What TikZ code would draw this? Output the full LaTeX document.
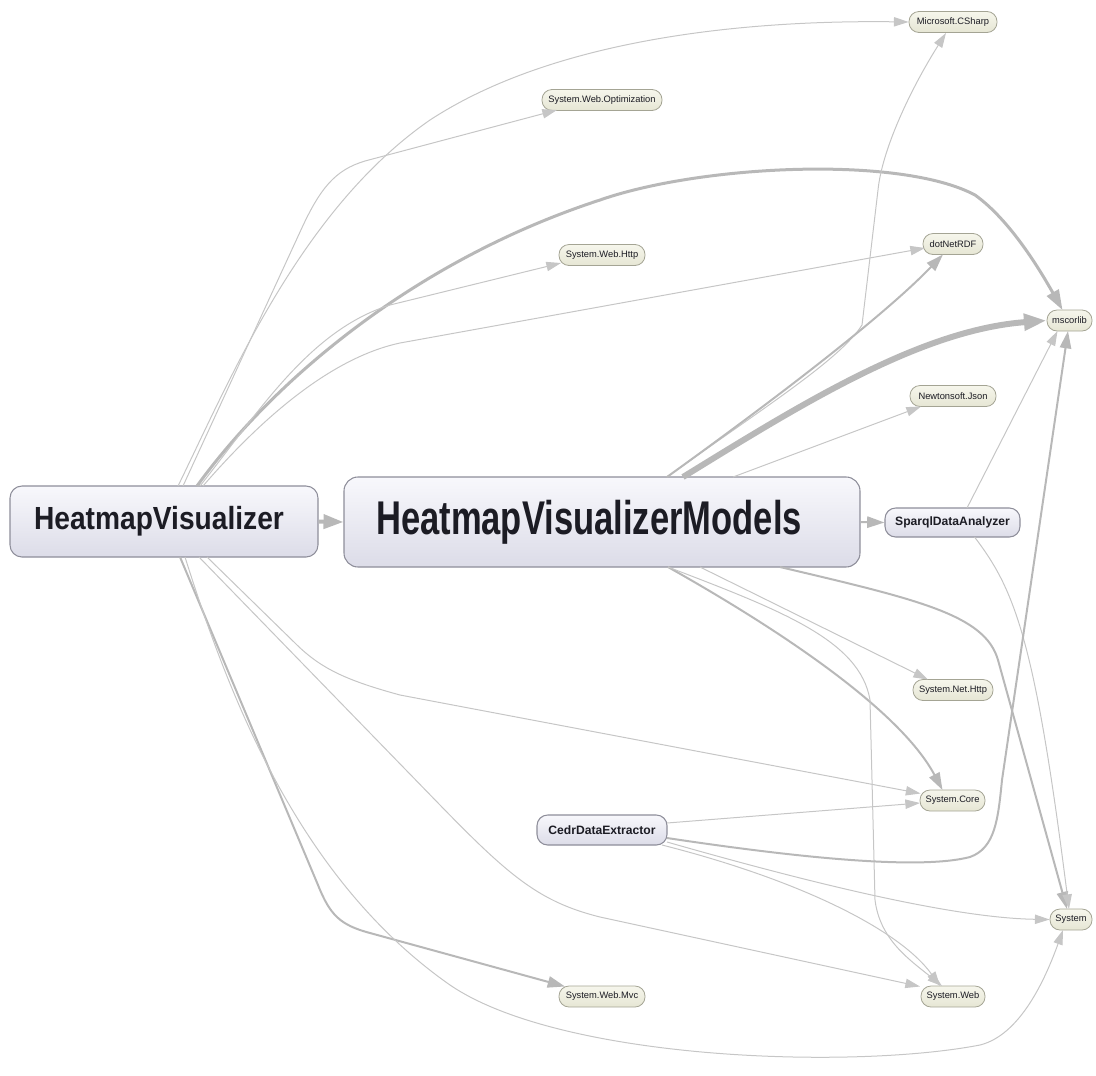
\documentclass[tikz,border=0pt]{standalone}
\usepackage{fontspec}
\setmainfont{Liberation Sans}
\usetikzlibrary{arrows.meta,calc}

\definecolor{edgethin}{HTML}{C6C6C6}
\definecolor{edgemid}{HTML}{B8B8B8}
\definecolor{bigtop}{HTML}{F8F8FC}
\definecolor{bigbot}{HTML}{DCDCE8}
\definecolor{bigline}{HTML}{8E8E9A}
\definecolor{modtop}{HTML}{F6F6EC}
\definecolor{modbot}{HTML}{E6E6D4}
\definecolor{modline}{HTML}{A4A494}
\definecolor{ink}{HTML}{1C1C24}

\tikzset{
  projbox/.style={draw=bigline, line width=0.8pt, top color=bigtop, bottom color=bigbot,
    inner sep=0pt, text=ink},
  refbox/.style={draw=modline, line width=0.6pt, top color=modtop, bottom color=modbot,
    rounded corners=7.5pt, inner sep=0pt, minimum height=15.75pt, text=ink,
    font=\fontsize{7}{8}\selectfont},
  depthin/.style={draw=edgethin, line width=0.75pt, -{Triangle[length=11pt,width=7pt]}},
  depmid/.style={draw=edgemid, line width=1.5pt, -{Triangle[length=13pt,width=8.5pt]}},
  depheavy/.style={draw=edgemid, line width=2.25pt, -{Triangle[length=15pt,width=10pt]}},
  depmax/.style={draw=edgemid, line width=4.5pt, -{Triangle[length=17pt,width=12pt]}},
}

\begin{document}
\begin{tikzpicture}[x=0.75pt,y=-0.75pt]
\useasboundingbox (0,0) rectangle (1096,1075);

% ---- projects ----
\node[projbox, rounded corners=9pt, minimum width=231pt, minimum height=53.25pt] (HV) at (164,521.5)
  {\scalebox{0.88}[1]{\fontsize{24}{24}\selectfont\bfseries HeatmapVisualizer}\hspace*{7.5pt}};
\node[projbox, rounded corners=10.5pt, minimum width=387pt, minimum height=67.5pt] (HVM) at (602,522)
  {\scalebox{0.73}[1]{\fontsize{35.5}{36}\selectfont\bfseries HeatmapVisualizerModels}\hspace*{19.5pt}};
\node[projbox, rounded corners=8pt, minimum width=101.25pt, minimum height=21.75pt] (SDA) at (952.5,522.5)
  {\fontsize{9.1}{10}\selectfont\bfseries SparqlDataAnalyzer};
\node[projbox, rounded corners=8pt, minimum width=97.5pt, minimum height=22.5pt] (CDE) at (602,830)
  {\fontsize{9.1}{10}\selectfont\bfseries CedrDataExtractor};

% ---- referenced assemblies ----
\node[refbox, minimum width=66pt]    (CSharp) at (953,22)     {Microsoft.CSharp};
\node[refbox, minimum width=90pt]    (Opt)    at (602,100)    {System.Web.Optimization};
\node[refbox, minimum width=64.5pt]  (WH)     at (602,255)    {System.Web.Http};
\node[refbox, minimum width=45pt]    (RDF)    at (953,244)    {dotNetRDF};
\node[refbox, minimum width=33.75pt] (ms)     at (1069.5,320.5) {mscorlib};
\node[refbox, minimum width=64.5pt]  (NJ)     at (953,396)    {Newtonsoft.Json};
\node[refbox, minimum width=60pt]    (NH)     at (953,690)    {System.Net.Http};
\node[refbox, minimum width=48.75pt] (SC)     at (952.5,800.5) {System.Core};
\node[refbox, minimum width=31.5pt]  (Sys)    at (1071,919.5) {System};
\node[refbox, minimum width=64.5pt]  (Mvc)    at (602,996.5)  {System.Web.Mvc};
\node[refbox, minimum width=48pt]    (SW)     at (953,996.5)  {System.Web};

% ---- HeatmapVisualizer dependencies ----
\draw[draw=edgemid, line width=3pt, -{Triangle[length=15pt,width=10.5pt]}] (HV.east) -- (HVM.west);
\draw[depthin] ($(HV)+(14,-35.5)$) .. controls (230,380) and (300,210) .. (430,120)
  .. controls (560,35) and (760,20) .. (CSharp.west);
\draw[depthin] ($(HV)+(19,-35.5)$) -- (300,232) .. controls (320,188) and (335,170) .. (365,161)
  -- ($(Opt)+(-45,10)$);
\draw[depheavy] ($(HV)+(33,-35.5)$) .. controls (270,385) and (410,262) .. (600,200)
  .. controls (700,165) and (900,155) .. (975,195)
  .. controls (1010,220) and (1040,270) .. ($(ms)+(-7,-10.5)$);
\draw[depthin] ($(HV)+(36,-35.5)$) .. controls (260,410) and (310,330) .. (390,305)
  -- ($(WH)+(-41,8)$);
\draw[depthin] ($(HV)+(39,-35.5)$) .. controls (260,420) and (330,358) .. (400,343)
  -- ($(RDF)+(-28,4)$);
\draw[depthin] ($(HV)+(43,35.5)$) -- (295,643) .. controls (320,668) and (345,680) .. (400,695)
  -- ($(SC)+(-32,-7)$);
\draw[depthin] ($(HV)+(35,35.5)$) -- (440,805) .. controls (510,877) and (540,902) .. (600,917)
  -- ($(SW)+(-33,-10)$);
\draw[depmid] ($(HV)+(16,35.5)$) -- (318,885) .. controls (330,915) and (340,925) .. (370,933)
  -- ($(Mvc)+(-37,-10)$);
\draw[depthin] ($(HV)+(21,35.5)$) .. controls (230,700) and (300,880) .. (450,985)
  .. controls (560,1060) and (850,1070) .. (980,1045)
  .. controls (1020,1035) and (1045,980) .. ($(Sys)+(-8,10.5)$);

% ---- HeatmapVisualizerModels dependencies ----
\draw[depmid] (HVM.east) -- (SDA.west);
\draw[depthin] ($(HVM)+(65,-45)$) .. controls (760,410) and (840,360) .. (862,325)
  -- (878,190) .. controls (882,150) and (910,90) .. ($(CSharp)+(-7,11)$);
\draw[depmid] ($(HVM)+(65,-45)$) .. controls (760,410) and (880,320) .. ($(RDF)+(-10,10.5)$);
\draw[depmax] ($(HVM)+(81,-45)$) .. controls (800,405) and (920,330) .. (ms.west);
\draw[depthin] ($(HVM)+(131,-45)$) -- ($(NJ)+(-32,10.5)$);
\draw[depthin] ($(HVM)+(98,45)$) -- ($(NH)+(-25,-10.5)$);
\draw[depmid] ($(HVM)+(66,45)$) .. controls (780,630) and (900,710) .. ($(SC)+(-10,-10.5)$);
\draw[depthin] ($(HVM)+(66,45)$) .. controls (780,610) and (860,640) .. (870,700)
  -- (875,900) .. controls (880,940) and (910,960) .. ($(SW)+(-11,-10.5)$);
\draw[depmid] ($(HVM)+(178,45)$) .. controls (920,600) and (985,615) .. (998,660)
  -- ($(Sys)+(-4,-10.5)$);

% ---- SparqlDataAnalyzer dependencies ----
\draw[depthin] ($(SDA)+(14.5,-14.5)$) -- ($(ms)+(-12,10.5)$);
\draw[depthin] ($(SDA)+(22,14.5)$) .. controls (1015,590) and (1035,640) .. ($(Sys)+(-2,-10.5)$);

% ---- CedrDataExtractor dependencies ----
\draw[depthin] ($(CDE)+(65,-7)$) -- ($(SC)+(-32.5,2.5)$);
\draw[depmid] ($(CDE)+(65,8)$) .. controls (800,858) and (920,870) .. (970,857)
  .. controls (995,848) and (998,820) .. (1002,780) -- ($(ms)+(-1.5,10.5)$);
\draw[depthin] ($(CDE)+(65,12)$) .. controls (800,880) and (950,918) .. (Sys.west);
\draw[depthin] ($(CDE)+(60,15)$) .. controls (800,880) and (900,930) .. ($(SW)+(-13,-10.5)$);

\end{tikzpicture}
\end{document}
